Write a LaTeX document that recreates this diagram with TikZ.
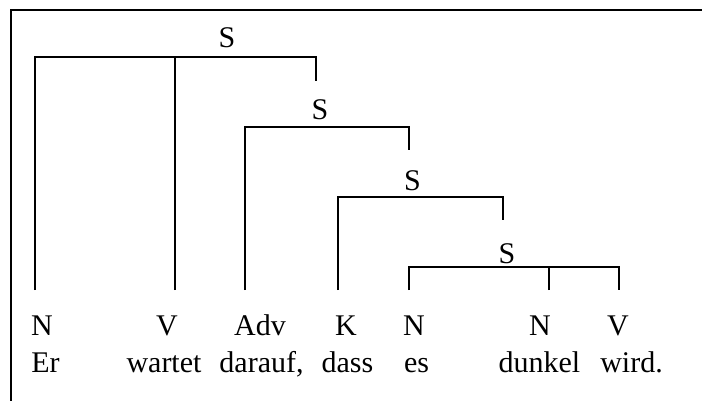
\documentclass[tikz,border=0pt]{standalone}
\usepackage{fontspec}
\setmainfont{Liberation Serif}
\begin{document}
\begin{tikzpicture}[x=1pt,y=-1pt,
  lbl/.style={anchor=base,inner sep=0pt,font=\fontsize{30}{36}\selectfont},
  br/.style={line width=1.6pt},
  frameline/.style={line width=2pt}]
\useasboundingbox (0,0) rectangle (702,401);
% frame
\coordinate (fa) at (11,401);
\coordinate (fb) at (11,10);
\coordinate (fc) at (702,10);
\draw[frameline] (fa) -- (fb) -- (fc);
% leaf tops
\coordinate (l1) at (35,290);
\coordinate (l2) at (175,290);
\coordinate (l3) at (245,290);
\coordinate (l4) at (338,290);
\coordinate (l5) at (409,290);
\coordinate (l6) at (549,290);
\coordinate (l7) at (619,290);
% bracket corners
\coordinate (b1r) at (316,57);  \coordinate (b1d) at (316,81);
\coordinate (b2r) at (409,127); \coordinate (b2d) at (409,150);
\coordinate (b3r) at (503,197); \coordinate (b3d) at (503,220);
\coordinate (b4r) at (619,267);
% S labels
\node[lbl] (s1) at (227,48) {S};
\node[lbl] (s2) at (320,120) {S};
\node[lbl] (s3) at (412.5,190.5) {S};
\node[lbl] (s4) at (507,263) {S};
% brackets
\draw[br] (l1) |- (b1r) -- (b1d);
\draw[br] (l2) -- (l2 |- b1r);
\draw[br] (l3) |- (b2r) -- (b2d);
\draw[br] (l4) |- (b3r) -- (b3d);
\draw[br] (l5) |- (b4r) -- (l7);
\draw[br] (l6) -- (l6 |- b4r);
% categories
\node[lbl] (c1) at (42,335) {N};
\node[lbl] (c2) at (167,335) {V};
\node[lbl] (c3) at (260,335) {Adv};
\node[lbl] (c4) at (346,335) {K};
\node[lbl] (c5) at (414,335) {N};
\node[lbl] (c6) at (540,335) {N};
\node[lbl] (c7) at (618,335) {V};
% words
\node[lbl] (w1) at (45.5,372) {Er};
\node[lbl] (w2) at (164,372) {wartet};
\node[lbl] (w3) at (261.5,372) {darauf,};
\node[lbl] (w4) at (347.5,372) {dass};
\node[lbl] (w5) at (416.5,372) {es};
\node[lbl] (w6) at (539.5,372) {dunkel};
\node[lbl] (w7) at (631.5,372) {wird.};
\end{tikzpicture}
\end{document}
